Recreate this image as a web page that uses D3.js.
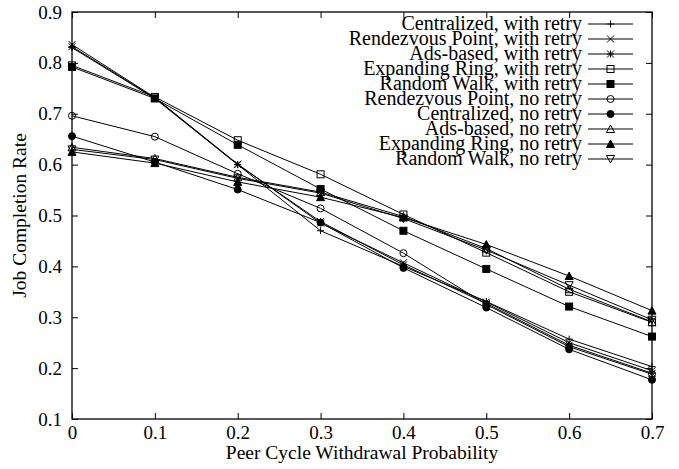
<!DOCTYPE html>
<html>
<head>
<meta charset="utf-8">
<script src="https://cdn.jsdelivr.net/npm/d3@7"></script>
<style>
body{margin:0;background:#fff;}
text{font-family:"Liberation Serif","DejaVu Serif",serif;fill:#000;}
</style>
</head>
<body>
<div id="chart"></div>
<script>
//Withdrawal probabilities on the x axis
var xValues = [0, 0.1, 0.2, 0.3, 0.4, 0.5, 0.6, 0.7];
var xTicks = [0, 0.1, 0.2, 0.3, 0.4, 0.5, 0.6, 0.7];
var yTicks = [0.1, 0.2, 0.3, 0.4, 0.5, 0.6, 0.7, 0.8, 0.9];

var seriesNames = [
	"Centralized, with retry",
	"Rendezvous Point, with retry",
	"Ads-based, with retry",
	"Expanding Ring, with retry",
	"Random Walk, with retry",
	"Rendezvous Point, no retry",
	"Centralized, no retry",
	"Ads-based, no retry",
	"Expanding Ring, no retry",
	"Random Walk, no retry"
];
var seriesMarkers = ["plus", "cross", "star", "openSquare", "square", "openCircle", "circle", "openTriangle", "triangle", "openDown"];

var centralizedRetry = [0.830, 0.730, 0.600, 0.470, 0.400, 0.331, 0.257, 0.203];
var rendezvousRetry = [0.836, 0.732, 0.601, 0.485, 0.407, 0.330, 0.250, 0.195];
var adsRetry = [0.832, 0.731, 0.600, 0.488, 0.403, 0.327, 0.245, 0.190];
var ringRetry = [0.795, 0.733, 0.648, 0.581, 0.502, 0.427, 0.350, 0.290];
var walkRetry = [0.792, 0.730, 0.639, 0.552, 0.470, 0.395, 0.321, 0.262];
var rendezvousNoRetry = [0.696, 0.655, 0.582, 0.514, 0.426, 0.325, 0.242, 0.188];
var centralizedNoRetry = [0.656, 0.605, 0.551, 0.486, 0.397, 0.319, 0.237, 0.177];
var adsNoRetry = [0.634, 0.612, 0.575, 0.546, 0.498, 0.435, 0.355, 0.291];
var ringNoRetry = [0.625, 0.603, 0.566, 0.536, 0.496, 0.443, 0.381, 0.313];
var walkNoRetry = [0.630, 0.610, 0.573, 0.544, 0.494, 0.432, 0.363, 0.295];

var seriesValues = [centralizedRetry, rendezvousRetry, adsRetry, ringRetry, walkRetry,
	rendezvousNoRetry, centralizedNoRetry, adsNoRetry, ringNoRetry, walkNoRetry];

draw();

function draw(){
	var w = 679, h = 469;
	var left = 72, right = 652, top = 12, bottom = 419;

	var svg = d3.select("#chart").append("svg")
		.attr("width", w)
		.attr("height", h);

	var x = d3.scaleLinear().domain([0, 0.7]).range([left, right]);
	var y = d3.scaleLinear().domain([0.1, 0.9]).range([bottom, top]);

	//Ticks point inwards on all four sides, like gnuplot does
	var tick = 6;
	svg.append("g").attr("transform", "translate(0," + bottom + ")")
		.call(d3.axisBottom(x).tickValues(xTicks).tickSize(-tick).tickPadding(7).tickFormat(d3.format("")))
		.call(styleAxis);
	svg.append("g").attr("transform", "translate(0," + top + ")")
		.call(d3.axisTop(x).tickValues(xTicks).tickSize(-tick).tickFormat(""))
		.call(styleAxis);
	svg.append("g").attr("transform", "translate(" + left + ",0)")
		.call(d3.axisLeft(y).tickValues(yTicks).tickSize(-tick).tickPadding(10).tickFormat(d3.format(".1f")))
		.call(styleAxis);
	svg.append("g").attr("transform", "translate(" + right + ",0)")
		.call(d3.axisRight(y).tickValues(yTicks).tickSize(-tick).tickFormat(""))
		.call(styleAxis);

	svg.append("rect")
		.attr("x", left).attr("y", top)
		.attr("width", right - left).attr("height", bottom - top)
		.attr("fill", "none").attr("stroke", "#000").attr("stroke-width", 1.3);

	//Axis titles
	svg.append("text")
		.attr("x", (left + right) / 2)
		.attr("y", 459)
		.attr("text-anchor", "middle")
		.attr("font-size", 19.5)
		.text("Peer Cycle Withdrawal Probability");
	svg.append("text")
		.attr("transform", "translate(26," + ((top + bottom) / 2) + ") rotate(-90)")
		.attr("text-anchor", "middle")
		.attr("font-size", 19.5)
		.text("Job Completion Rate");

	var line = d3.line()
		.x(function(d, i){ return x(xValues[i]); })
		.y(function(d){ return y(d); });

	for(var s = 0; s < seriesValues.length; s++){
		svg.append("path")
			.attr("d", line(seriesValues[s]))
			.attr("fill", "none")
			.attr("stroke", "#000")
			.attr("stroke-width", 1);
		for(var i = 0; i < xValues.length; i++){
			addMarker(svg, seriesMarkers[s], x(xValues[i]), y(seriesValues[s][i]));
		}
	}

	//Legend, top right, text right-aligned against the sample lines
	for(var s = 0; s < seriesNames.length; s++){
		var ly = 24 + s * 15;
		svg.append("text")
			.attr("x", 582)
			.attr("y", ly + 6)
			.attr("text-anchor", "end")
			.attr("font-size", 20)
			.text(seriesNames[s]);
		svg.append("line")
			.attr("x1", 588).attr("x2", 633)
			.attr("y1", ly).attr("y2", ly)
			.attr("stroke", "#000").attr("stroke-width", 1);
		addMarker(svg, seriesMarkers[s], 610.5, ly);
	}
}

function styleAxis(g){
	g.select(".domain").remove();
	g.selectAll(".tick line").attr("stroke", "#000").attr("stroke-width", 1);
	g.selectAll(".tick text")
		.attr("font-family", "Liberation Serif, serif")
		.attr("font-size", 19)
		.attr("fill", "#000");
}

function addMarker(svg, type, cx, cy){
	var r = 3.5;
	var g = svg.append("g").attr("transform", "translate(" + cx + "," + cy + ")");
	if(type == "plus"){
		g.append("path").attr("d", "M" + (-r) + ",0H" + r + "M0," + (-r) + "V" + r).attr("stroke", "#000");
	}else if(type == "cross"){
		g.append("path").attr("d", "M" + (-r) + "," + (-r) + "L" + r + "," + r + "M" + (-r) + "," + r + "L" + r + "," + (-r)).attr("stroke", "#000");
	}else if(type == "star"){
		g.append("path").attr("d", "M" + (-r) + ",0H" + r + "M0," + (-r) + "V" + r +
			"M" + (-r) + "," + (-r) + "L" + r + "," + r + "M" + (-r) + "," + r + "L" + r + "," + (-r)).attr("stroke", "#000");
	}else if(type == "openSquare" || type == "square"){
		g.append("rect").attr("x", -r).attr("y", -r).attr("width", 2 * r).attr("height", 2 * r)
			.attr("fill", type == "square" ? "#000" : "none").attr("stroke", "#000");
	}else if(type == "openCircle" || type == "circle"){
		g.append("circle").attr("r", r)
			.attr("fill", type == "circle" ? "#000" : "none").attr("stroke", "#000");
	}else if(type == "openTriangle" || type == "triangle"){
		g.append("path").attr("d", "M0," + (-r - 0.5) + "L" + (r + 0.5) + "," + r + "L" + (-r - 0.5) + "," + r + "Z")
			.attr("fill", type == "triangle" ? "#000" : "none").attr("stroke", "#000");
	}else if(type == "openDown"){
		g.append("path").attr("d", "M0," + (r + 0.5) + "L" + (r + 0.5) + "," + (-r) + "L" + (-r - 0.5) + "," + (-r) + "Z")
			.attr("fill", "none").attr("stroke", "#000");
	}
}
</script>
</body>
</html>
